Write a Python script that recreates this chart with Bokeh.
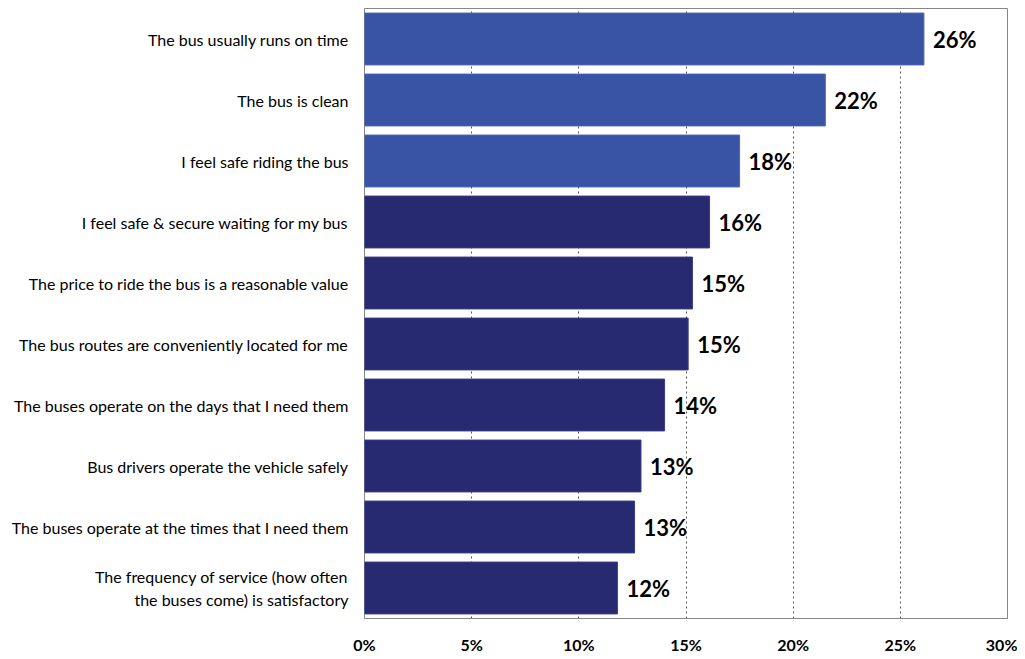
from bokeh.plotting import figure
from bokeh.models import ColumnDataSource, FactorRange, Range1d, FixedTicker
from bokeh.embed import file_html
from bokeh.resources import INLINE
from bokeh.core.properties import value

categories = [
    "The bus usually runs on time",
    "The bus is clean",
    "I feel safe riding the bus",
    "I feel safe & secure waiting for my bus",
    "The price to ride the bus is a reasonable value",
    "The bus routes are conveniently located for me",
    "The buses operate on the days that I need them",
    "Bus drivers operate the vehicle safely",
    "The buses operate at the times that I need them",
    "The frequency of service (how often\nthe buses come) is satisfactory",
]
values = [26.1, 21.5, 17.5, 16.1, 15.3, 15.1, 14.0, 12.9, 12.6, 11.8]
value_labels = ["26%", "22%", "18%", "16%", "15%", "15%", "14%", "13%", "13%", "12%"]
highlight = [True, True, True, False, False, False, False, False, False, False]
tick_values = [0, 5, 10, 15, 20, 25, 30]
tick_labels = ["0%", "5%", "10%", "15%", "20%", "25%", "30%"]

colors = ["#3A54A5" if h else "#272A70" for h in highlight]
edge = ["#4B66B5" if h else "#3A3C88" for h in highlight]

src = ColumnDataSource(dict(cat=categories, val=values, lab=value_labels, color=colors, edge=edge))

p = figure(
    y_range=FactorRange(factors=list(reversed(categories)), range_padding=0),
    x_range=Range1d(0, 30),
    frame_width=643, frame_height=610,
    output_backend="svg", toolbar_location=None,
)
p.min_border_left = 364
p.min_border_right = 10
p.min_border_top = 8
p.min_border_bottom = 32

p.hbar(y="cat", right="val", left=0, height=0.85, source=src,
       fill_color="color", line_color="edge", line_width=1)

p.text(x="val", y="cat", text="lab", source=src, x_offset=9,
       text_baseline="middle", text_align="left",
       text_font=value("Lato"), text_font_style="bold", text_font_size="22px",
       text_color="#000000")

p.outline_line_color = "#868686"
p.outline_line_width = 1

p.xgrid.ticker = FixedTicker(ticks=[5, 10, 15, 20, 25])
p.xgrid.grid_line_color = "#555555"
p.xgrid.grid_line_dash = "2 3"
p.xgrid.grid_line_width = 1
p.ygrid.grid_line_color = None

p.xaxis.ticker = FixedTicker(ticks=tick_values)
p.xaxis.major_label_overrides = {t: l for t, l in zip(tick_values, tick_labels)}
p.xaxis.major_label_text_font = "Lato"
p.xaxis.major_label_text_font_style = "bold"
p.xaxis.major_label_text_font_size = "16px"
p.xaxis.major_label_text_color = "#000000"
p.xaxis.major_label_standoff = 10
p.xaxis.axis_line_color = "#868686"
p.xaxis.major_tick_line_color = None
p.xaxis.minor_tick_line_color = None

p.yaxis.major_label_text_font = "Lato"
p.yaxis.major_label_text_font_size = "16px"
p.yaxis.major_label_text_color = "#000000"
p.yaxis.major_label_standoff = 10
p.yaxis.axis_line_color = None
p.yaxis.major_tick_line_color = None
p.yaxis.minor_tick_line_color = None

open("out.html", "w").write(file_html(p, INLINE))
